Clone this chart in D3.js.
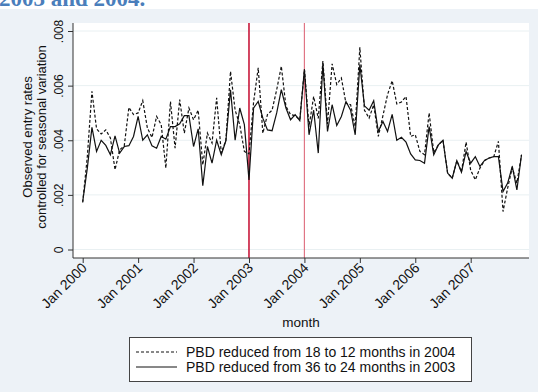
<!DOCTYPE html>
<html>
<head>
<meta charset="utf-8">
<style>
body { margin: 0; background: #fff; }
text { font-family: "Liberation Sans", Arial, sans-serif; fill: #111; }
.title { font-family: "Liberation Serif", "Times New Roman", serif; font-weight: bold; fill: #4a7ebb; }
</style>
</head>
<body>
<script src="https://cdnjs.cloudflare.com/ajax/libs/d3/7.8.5/d3.min.js"></script>
<script>

// monthly series, Jan 2000 .. Dec 2007 (month index 0..95)
var dashed = [
  .00172, .0034, .00579, .00442, .00423, .00438, .00408, .00292, .00365, .0038, .0052, .00494,
  .0050, .00545, .00445, .0041, .00487, .00457, .00298, .00542, .00371, .00549, .00426, .00518,
  .00475, .0051, .0031, .00426, .0039, .00555, .00353, .0040, .00652, .0051, .00457, .00359,
  .0035, .0054, .00665, .00426, .00494, .0051, .00585, .00671, .00524, .00494, .0049, .00475,
  .0066, .0045, .0056, .0048, .0069, .0046, .0068, .00604, .00628, .00535, .0053, .0045,
  .0074, .0051, .00481, .0053, .00414, .0049, .00567, .00618, .00533, .0054, .0056, .00414,
  .0042, .00359, .00347, .0050, .00355, .00383, .0040, .0028, .00261, .00325, .00285, .00393,
  .0029, .00255, .00298, .00326, .00335, .0034, .00396, .00139, .00225, .0030, .00243, .00347
];
var solid = [
  .00175, .00298, .00447, .00359, .0040, .00381, .00347, .00416, .00353, .00377, .0038, .00414,
  .00487, .0040, .0042, .0038, .00371, .00414, .00404, .0045, .0045, .0046, .0049, .0049,
  .00377, .00442, .00234, .00377, .00316, .0040, .00347, .00398, .00585, .0040, .00518, .00457,
  .00255, .00518, .00542, .00481, .00438, .00435, .0050, .00585, .00518, .00475, .00494, .00472,
  .00659, .0042, .0051, .00353, .0068, .00432, .0053, .00454, .00487, .00542, .0051, .0042,
  .00677, .00526, .0051, .00545, .00432, .00469, .00432, .00495, .0040, .00411, .00393, .0035,
  .00328, .00326, .00316, .0045, .00347, .00383, .0040, .0028, .00261, .00325, .00283, .00359,
  .00316, .0034, .00304, .00326, .00335, .0034, .0034, .00212, .00243, .00304, .00218, .00347
];
var yTicks = [0, .002, .004, .006, .008];
var yTickLabels = ["0", ".002", ".004", ".006", ".008"];
var xTicks = [0, 12, 24, 36, 48, 60, 72, 84];
var xTickLabels = ["Jan 2000", "Jan 2001", "Jan 2002", "Jan 2003", "Jan 2004", "Jan 2005", "Jan 2006", "Jan 2007"];
var policyMonths = [36, 48];
var legendLabels = ["PBD reduced from 18 to 12 months in 2004", "PBD reduced from 36 to 24 months in 2003"];

var width = 538, height = 392;
var plot = {left: 73, right: 529, top: 23, bottom: 258};

var svg = d3.select("body").append("svg")
    .attr("width", width)
    .attr("height", height);

// page heading (cut off at top, as in the source)
svg.append("text")
    .attr("class", "title")
    .attr("x", -1)
    .attr("y", 6)
    .style("font-size", "23px")
    .text("2003 and 2004.");

// graph region background
svg.append("rect")
    .attr("x", 0).attr("y", 9)
    .attr("width", width).attr("height", height - 9)
    .attr("fill", "#edf2f7");

svg.append("rect")
    .attr("x", plot.left).attr("y", plot.top)
    .attr("width", plot.right - plot.left).attr("height", plot.bottom - plot.top)
    .attr("fill", "#fff");

var x = d3.scaleLinear().domain([0, 84]).range([82.7, 470.7]);
var y = d3.scaleLinear().domain([0, .008]).range([249.5, 31]);

// gridlines
svg.append("g")
  .selectAll("line")
  .data(yTicks)
  .enter().append("line")
    .attr("x1", plot.left).attr("x2", plot.right)
    .attr("y1", function(d) { return y(d); })
    .attr("y2", function(d) { return y(d); })
    .attr("stroke", "#e9f0f2")
    .attr("stroke-width", 1);

// policy change lines
svg.append("line")
    .attr("x1", x(policyMonths[0])).attr("x2", x(policyMonths[0]))
    .attr("y1", plot.top).attr("y2", plot.bottom)
    .attr("stroke", "#c8193c").attr("stroke-width", 1.6);
svg.append("line")
    .attr("x1", x(policyMonths[1])).attr("x2", x(policyMonths[1]))
    .attr("y1", plot.top).attr("y2", plot.bottom)
    .attr("stroke", "#e07585").attr("stroke-width", 1.2);

var line = d3.line()
    .x(function(d, i) { return x(i); })
    .y(function(d) { return y(d); });

svg.append("path")
    .datum(dashed)
    .attr("d", line)
    .attr("fill", "none")
    .attr("stroke", "#111")
    .attr("stroke-width", 1.2)
    .attr("stroke-dasharray", "3,2");

svg.append("path")
    .datum(solid)
    .attr("d", line)
    .attr("fill", "none")
    .attr("stroke", "#111")
    .attr("stroke-width", 1.2);

// y axis
var yAxis = svg.append("g")
    .attr("transform", "translate(" + plot.left + ",0)")
    .call(d3.axisLeft(y).tickValues(yTicks).tickSize(5).tickFormat(function(d, i) { return yTickLabels[i]; }));
yAxis.select(".domain").attr("d", "M0," + plot.top + "V" + plot.bottom).attr("stroke", "#333");
yAxis.selectAll(".tick line").attr("stroke", "#333");
yAxis.selectAll(".tick text")
    .attr("x", null).attr("dy", null)
    .attr("transform", "translate(-10,0) rotate(-90)")
    .attr("text-anchor", "middle")
    .style("font-size", "12px")
    .attr("fill", "#111");

// x axis
var xAxis = svg.append("g")
    .attr("transform", "translate(0," + plot.bottom + ")")
    .call(d3.axisBottom(x).tickValues(xTicks).tickSize(5).tickFormat(function(d, i) { return xTickLabels[i]; }));
xAxis.select(".domain").attr("d", "M" + plot.left + ",0H" + plot.right).attr("stroke", "#333");
xAxis.selectAll(".tick line").attr("stroke", "#333");
xAxis.selectAll(".tick text")
    .attr("y", null).attr("dy", null)
    .attr("transform", "translate(2,8) rotate(-45)")
    .attr("text-anchor", "end")
    .attr("dominant-baseline", "middle")
    .style("font-size", "14px")
    .attr("fill", "#111");

// axis titles
svg.append("text")
    .attr("transform", "translate(32,137) rotate(-90)")
    .attr("text-anchor", "middle")
    .style("font-size", "13px")
    .text("Observed entry rates");
svg.append("text")
    .attr("transform", "translate(46,137) rotate(-90)")
    .attr("text-anchor", "middle")
    .style("font-size", "13px")
    .text("controlled for seasonal variation");

svg.append("text")
    .attr("x", 301).attr("y", 327)
    .attr("text-anchor", "middle")
    .style("font-size", "13.5px")
    .text("month");

// legend
var legend = svg.append("g");
legend.append("rect")
    .attr("x", 129.5).attr("y", 337.5)
    .attr("width", 342).attr("height", 44)
    .attr("fill", "#fff")
    .attr("stroke", "#444");

var rows = legend.selectAll("g.row")
    .data(legendLabels)
    .enter().append("g")
    .attr("class", "row")
    .attr("transform", function(d, i) { return "translate(0," + (352 + i * 15) + ")"; });

rows.append("line")
    .attr("x1", 136).attr("x2", 177)
    .attr("y1", 0).attr("y2", 0)
    .attr("stroke", "#111")
    .attr("stroke-width", 1)
    .attr("stroke-dasharray", function(d, i) { return i == 0 ? "3,2" : null; });

rows.append("text")
    .attr("x", 186)
    .attr("y", 5)
    .style("font-size", "14px")
    .text(function(d) { return d; });

</script>
</body>
</html>
